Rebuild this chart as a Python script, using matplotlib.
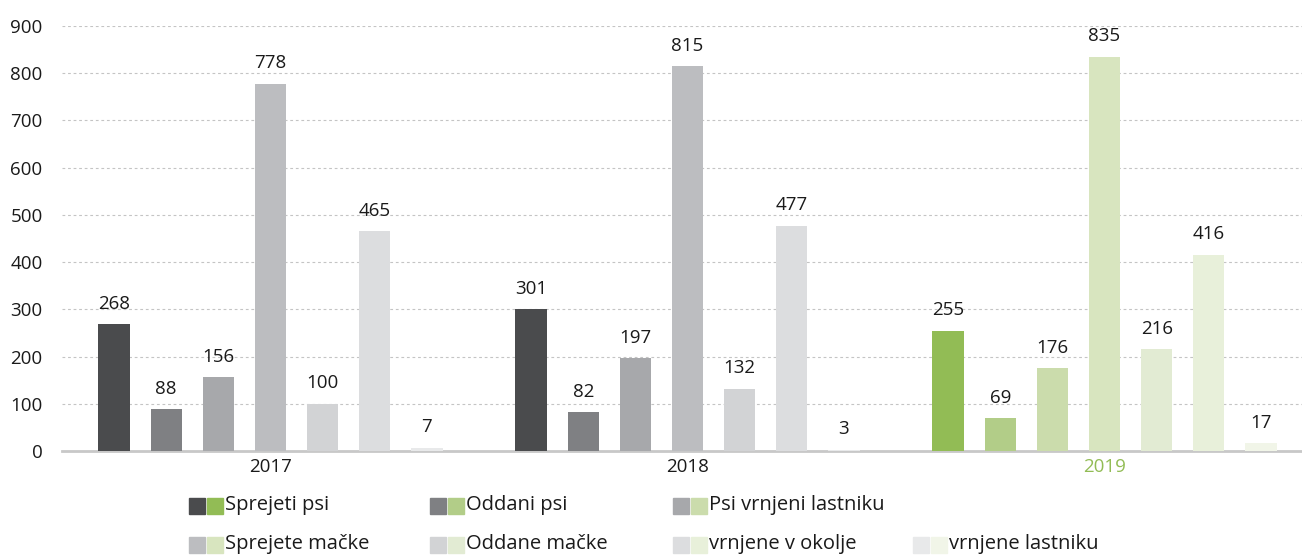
import numpy as np
import matplotlib
matplotlib.use("Agg")
import matplotlib.pyplot as plt
from matplotlib.patches import Rectangle

plt.rcParams['font.family'] = ['Open Sans', 'DejaVu Sans']

# data
years = ['2017', '2018', '2019']
series = ['Sprejeti psi', 'Oddani psi', 'Psi vrnjeni lastniku',
          'Sprejete mačke', 'Oddane mačke', 'vrnjene v okolje',
          'vrnjene lastniku']
values = [
    [268, 88, 156, 778, 100, 465, 7],    # 2017
    [301, 82, 197, 815, 132, 477, 3],    # 2018
    [255, 69, 176, 835, 216, 416, 17],   # 2019
]
grey_cols = ['#4a4b4d', '#7f8083', '#a7a8ab', '#bcbdc0', '#d2d3d5', '#dcdddf', '#e8e9ea']
green_cols = ['#92bc55', '#b2cd88', '#cbdcac', '#d8e5bf', '#e2ebd3', '#e8f0da', '#f1f5e8']

W, H = 1302, 556
fig = plt.figure(figsize=(W / 100, H / 100), dpi=100)
ax = fig.add_axes([62 / W, 1 - 451 / H, 1251 / W, 425 / H])

step = 0.125
width = 0.075
for gi, yr in enumerate(years):
    cols = green_cols if yr == '2019' else grey_cols
    for si, v in enumerate(values[gi]):
        x = gi + (si - 3) * step
        ax.bar(x, v, width=width, color=cols[si], zorder=3)
        ax.text(x, v + 24, str(v), ha='center', va='bottom', fontsize=13.5, color='#1a1a1a')

ax.set_xlim(-0.5, 2.5)
ax.set_ylim(0, 900)
ax.set_yticks(range(0, 901, 100))
ax.yaxis.grid(True, linestyle=(0, (2.5, 2.5)), color='#c4c4c4', linewidth=0.8)
ax.set_axisbelow(True)
for s in ['top', 'right', 'left']:
    ax.spines[s].set_visible(False)
ax.spines['bottom'].set_color('#c8c8c8')
ax.spines['bottom'].set_linewidth(2)
ax.tick_params(axis='y', length=0, pad=14, labelsize=13.5, labelcolor='#1a1a1a')
ax.tick_params(axis='x', length=0, pad=5, labelsize=13.5, labelcolor='#1a1a1a')
ax.set_xticks(range(len(years)))
ax.set_xticklabels(years)
ax.get_xticklabels()[2].set_color('#92bc55')

# legend, drawn as two rows in figure coordinates
rows = [[0, 1, 2], [3, 4, 5, 6]]
row_y = [506, 545]
col_x = [189, 430, 673, 913]
sq = 16
for ri, row in enumerate(rows):
    for ci, si in enumerate(row):
        x0 = col_x[ci]
        yc = row_y[ri]
        for k, c in enumerate([grey_cols[si], green_cols[si]]):
            fig.patches.append(Rectangle(((x0 + k * 18) / W, 1 - (yc + sq / 2) / H),
                                         sq / W, sq / H, transform=fig.transFigure,
                                         color=c, figure=fig))
        fig.text((x0 + 36) / W, 1 - (yc - 1) / H, series[si], ha='left', va='center',
                 fontsize=14.5, color='#1a1a1a')

fig.savefig('out.png', dpi=100)
